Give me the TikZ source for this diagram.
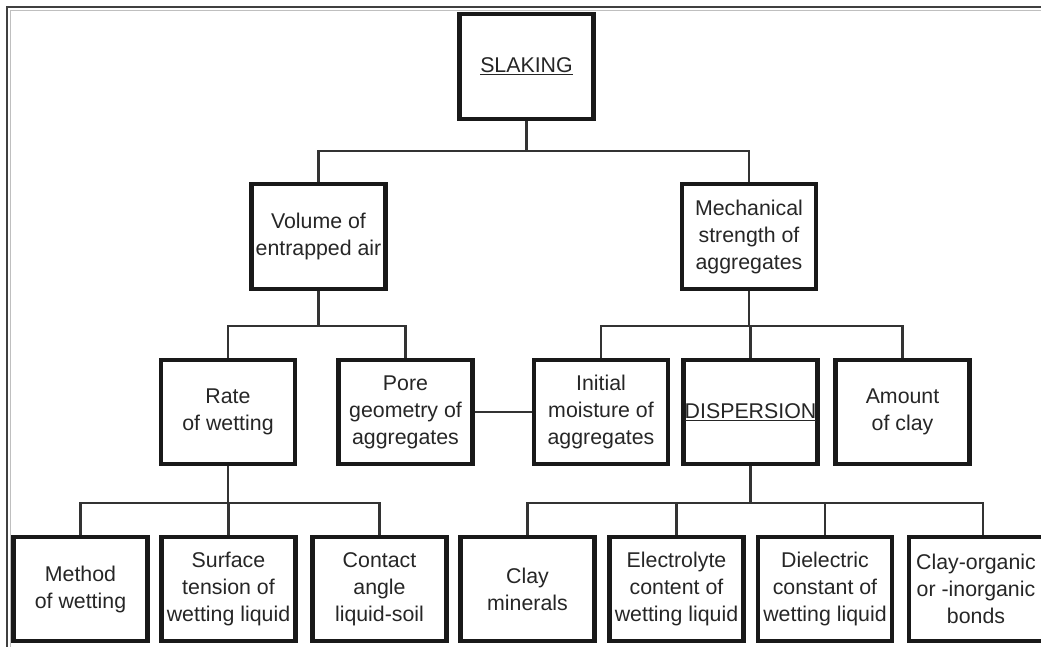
\documentclass[tikz,border=0pt]{standalone}
\usepackage{fontspec}
\setmainfont{Liberation Sans}
\begin{document}
\begin{tikzpicture}[x=0.75pt,y=-0.75pt,
  box/.style={draw=black!90, line width=3.2pt, fill=white, align=center,
    minimum width=100.5pt, minimum height=78pt, inner sep=0pt,
    text=black!85, font=\fontsize{16}{20.25}\selectfont},
  conn/.style={draw=black!80, line width=1.7pt}]
\useasboundingbox (0,0) rectangle (1041,647);
\clip (0,0) rectangle (1041,647);
\fill[white] (0,0) rectangle (1041,647);
% frame
\draw[black!75, line width=0.9pt] (1041,7) -- (7,7) -- (7,647);
\draw[black!25, line width=0.9pt] (1041,10.5) -- (10.5,10.5) -- (10.5,647);
% bus levels
\coordinate (bus1) at (0,151);
\coordinate (bus2) at (0,326);
\coordinate (bus3) at (0,503);
% nodes
\node[box, minimum height=78.75pt] (slak) at (526.5,66.5) {\underline{SLAKING}};
\node[box, minimum height=78.75pt] (vol) at (318.5,236.5) {Volume of\\entrapped air};
\node[box, minimum height=78.75pt] (mech) at (749,236.5) {Mechanical\\strength of\\aggregates};
\node[box] (rate) at (228,412) {Rate\\of wetting};
\node[box] (pore) at (405.5,412) {Pore\\geometry of\\aggregates};
\node[box] (init) at (601,412) {Initial\\moisture of\\aggregates};
\node[box] (disp) at (750.5,412) {\underline{DISPERSION}};
\node[box] (amt) at (902.5,412) {Amount\\of clay};
\node[box] (meth) at (80.5,589) {Method\\of wetting};
\node[box] (surf) at (228.5,589) {Surface\\tension of\\wetting liquid};
\node[box] (cont) at (379.5,589) {Contact\\angle\\liquid-soil};
\node[box] (claym) at (527.5,589) {Clay\\minerals};
\node[box] (elec) at (676.5,589) {Electrolyte\\content of\\wetting liquid};
\node[box] (diel) at (825,589) {Dielectric\\constant of\\wetting liquid};
\node[box] (clayo) at (976,589) {Clay-organic\\or -inorganic\\bonds};
% connectors level 1
\draw[conn] (slak.south) -- (slak.south |- bus1);
\draw[conn] (vol.north) -- (vol.north |- bus1) -- (mech.north |- bus1) -- (mech.north);
% level 2 left
\draw[conn] (vol.south) -- (vol.south |- bus2);
\draw[conn] (rate.north) -- (rate.north |- bus2) -- (pore.north |- bus2) -- (pore.north);
% level 2 right
\draw[conn] (mech.south) -- (mech.south |- bus2);
\draw[conn] (init.north) -- (init.north |- bus2) -- (amt.north |- bus2) -- (amt.north);
\draw[conn] (disp.north) -- (disp.north |- bus2);
% pore - initial
\draw[conn] (pore.east) -- (init.west);
% level 3 left
\draw[conn] (rate.south) -- (rate.south |- bus3);
\draw[conn] (meth.north) -- (meth.north |- bus3) -- (cont.north |- bus3) -- (cont.north);
\draw[conn] (surf.north) -- (surf.north |- bus3);
% level 3 right
\draw[conn] (disp.south) -- (disp.south |- bus3);
\draw[conn] (claym.north) -- (claym.north |- bus3) -- ([xshift=5.25pt]clayo.north |- bus3) -- ([xshift=5.25pt]clayo.north);
\draw[conn] (elec.north) -- (elec.north |- bus3);
\draw[conn] (diel.north) -- (diel.north |- bus3);
\end{tikzpicture}
\end{document}
